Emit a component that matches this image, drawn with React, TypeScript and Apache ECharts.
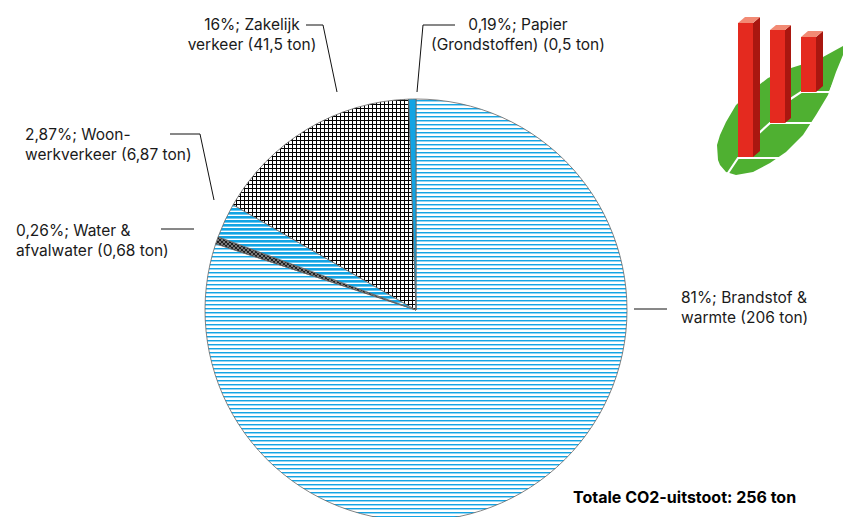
import React, { useEffect, useRef } from 'react';
import * as echarts from 'echarts';

const names = ['Brandstof & warmte', 'Water & afvalwater', 'Woon-werkverkeer', 'Zakelijk verkeer', 'Papier (Grondstoffen)'];
const tons = [206, 0.68, 6.87, 41.5, 0.5];
const pctLabels = ['81%', '0,26%', '2,87%', '16%', '0,19%'];
const labelHead = ['Brandstof &', 'Water &', 'Woon-', 'Zakelijk', 'Papier'];
const labelTail = ['warmte', 'afvalwater', 'werkverkeer', 'verkeer', '(Grondstoffen)'];
const totalLabel = 'Totale CO2-uitstoot';
const unit = 'ton';

const FONT = 'Inter, "Open Sans", sans-serif';

function makePattern(w: number, h: number, draw: (ctx: CanvasRenderingContext2D) => void) {
  const c = document.createElement('canvas');
  c.width = w;
  c.height = h;
  const ctx = c.getContext('2d') as CanvasRenderingContext2D;
  draw(ctx);
  return { image: c, repeat: 'repeat', imageWidth: w, imageHeight: h } as any;
}

const fmt = (v: number) => String(v).replace('.', ',');

export default function App() {
  const ref = useRef<HTMLDivElement>(null);
  useEffect(() => {
    document.body.style.margin = '0';
    const chart = echarts.init(ref.current as HTMLDivElement, null, { renderer: 'svg' });

    const horizBlue = makePattern(4, 4, (ctx) => {
      ctx.fillStyle = '#ffffff';
      ctx.fillRect(0, 0, 4, 4);
      ctx.fillStyle = '#14a4e4';
      ctx.fillRect(0, 0, 4, 1);
      ctx.fillStyle = 'rgba(20,164,228,0.45)';
      ctx.fillRect(0, 1, 4, 1);
    });
    const darkHatch = makePattern(4, 4, (ctx) => {
      ctx.fillStyle = '#777777';
      ctx.fillRect(0, 0, 4, 4);
      ctx.fillStyle = '#222222';
      for (let i = 0; i < 4; i++) ctx.fillRect(i, i, 1, 1);
      for (let i = 0; i < 4; i++) ctx.fillRect(3 - i, i, 1, 1);
    });
    const blueStripe = makePattern(4, 4, (ctx) => {
      ctx.fillStyle = '#ffffff';
      ctx.fillRect(0, 0, 4, 4);
      ctx.fillStyle = '#12a4e4';
      ctx.fillRect(0, 0, 4, 2.6);
    });
    const grid = makePattern(4, 4, (ctx) => {
      ctx.fillStyle = '#ffffff';
      ctx.fillRect(0, 0, 4, 4);
      ctx.fillStyle = '#000000';
      ctx.fillRect(0, 0, 4, 1);
      ctx.fillRect(0, 0, 1, 4);
    });
    const fills = [horizBlue, darkHatch, blueStripe, grid, '#12a4e4'];

    const layouts: any[] = [
      { x: 681, y: 307, align: 'left', verticalAlign: 'middle', labelLinePoints: [[634, 309], [650, 309], [667, 309]] },
      { x: 16, y: 240, align: 'left', verticalAlign: 'middle', labelLinePoints: [[194, 229], [180, 229], [161, 229]] },
      { x: 25, y: 144, align: 'left', verticalAlign: 'middle', labelLinePoints: [[214, 200], [200, 134], [170, 134]] },
      { x: 252, y: 34, align: 'center', verticalAlign: 'middle', labelLinePoints: [[337, 92], [323, 25], [306, 25]] },
      { x: 518, y: 34, align: 'center', verticalAlign: 'middle', labelLinePoints: [[417, 92], [423, 25], [455, 25]] },
    ];

    const total = Math.round(tons.reduce((a, b) => a + b, 0));

    const bar = (fx0: number, fx1: number, top: number, bottom: number, d: number) => [
      { type: 'rect', shape: { x: fx0, y: top, width: fx1 - fx0, height: bottom - top }, style: { fill: '#e42a1f' } },
      { type: 'polygon', shape: { points: [[fx1, top], [fx1 + d, top - d + 1], [fx1 + d, bottom - d + 1], [fx1, bottom]] }, style: { fill: '#a91710' } },
      { type: 'polygon', shape: { points: [[fx0, top], [fx0 + d, top - d + 1], [fx1 + d, top - d + 1], [fx1, top]] }, style: { fill: '#f28a74' } },
    ];

    const white = { stroke: '#ffffff', lineWidth: 2.2, fill: null };

    chart.setOption({
      animation: false,
      backgroundColor: '#ffffff',
      series: [
        {
          type: 'pie',
          center: [416, 310],
          radius: 211,
          startAngle: 90,
          clockwise: true,
          minAngle: 2,
          avoidLabelOverlap: false,
          silent: true,
          itemStyle: { borderColor: '#666666', borderWidth: 0.8 },
          label: {
            show: true,
            position: 'outside',
            fontFamily: FONT,
            fontSize: 15.5,
            lineHeight: 20,
            color: '#1a1a1a',
            formatter: (p: any) => {
              const i = p.dataIndex;
              return `${pctLabels[i]}; ${labelHead[i]}\n${labelTail[i]} (${fmt(tons[i])} ${unit})`;
            },
          },
          labelLine: { show: true, length: 10, length2: 10, lineStyle: { color: '#111111', width: 1 } },
          labelLayout: (params: any) => layouts[params.dataIndex],
          data: names.map((n, i) => ({ name: n, value: tons[i], itemStyle: { color: fills[i] } })),
        },
      ],
      graphic: [
        {
          type: 'text',
          left: 573,
          top: 489,
          style: { text: `${totalLabel}: ${total} ${unit}`, font: `bold 16px ${FONT}`, fill: '#000000' },
        },
        {
          type: 'group',
          z: 100,
          children: [
            {
              type: 'polygon',
              shape: {
                points: [[718, 160], [717, 145], [720, 135], [726, 122], [736, 105], [750, 92], [768, 78], [791, 68], [810, 62], [823, 57], [843, 46], [843, 55], [836, 72], [828, 95], [816, 115], [803, 135], [786, 152], [770, 163], [753, 172], [736, 175], [726, 172], [720, 165]],
              },
              style: { fill: '#4fb031' },
            },
            { type: 'polyline', shape: { points: [[726, 176], [738, 158], [800, 158]] }, style: white },
            { type: 'polyline', shape: { points: [[758, 134], [770, 123], [820, 123]] }, style: white },
            { type: 'polyline', shape: { points: [[789, 100], [801, 92], [830, 92], [845, 58]] }, style: white },
            ...bar(738, 753, 23, 157, 7),
            ...bar(770, 785, 30, 123, 6),
            ...bar(801, 816, 37, 92, 7),
          ],
        },
      ],
    });
    return () => chart.dispose();
  }, []);
  return <div ref={ref} style={{ width: 843, height: 517 }} />;
}
